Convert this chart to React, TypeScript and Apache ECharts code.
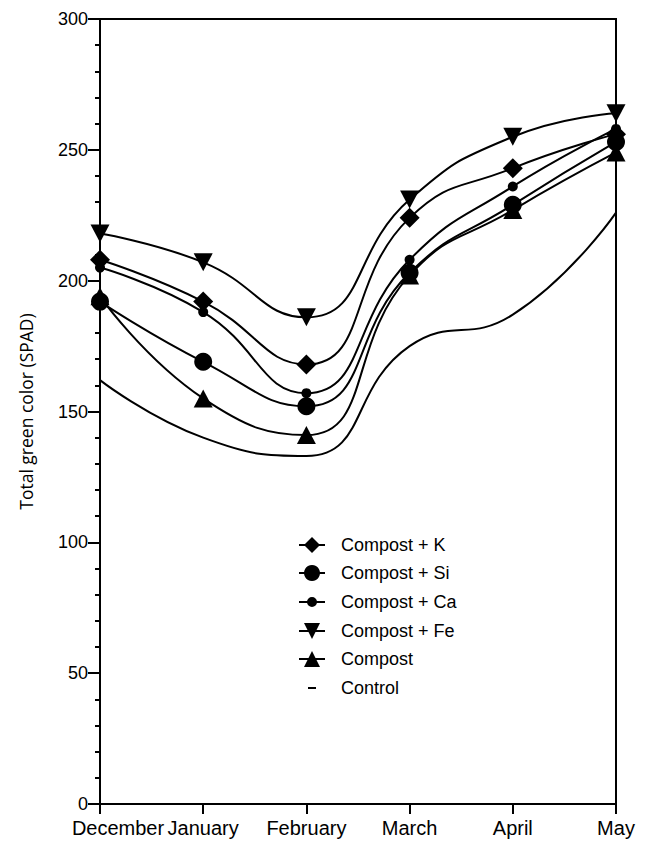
import React, { useEffect, useRef } from "react";
import * as echarts from "echarts";

const months = ["December", "January", "February", "March", "April", "May"];
const compostK = [208, 192, 168, 224, 243, 256];
const compostSi = [192, 169, 152, 203, 229, 253];
const compostCa = [205, 188, 157, 208, 236, 258];
const compostFe = [218, 207, 186, 231, 255, 264];
const compostOnly = [194, 155, 141, 202, 227, 249];
const control = [162, 140, 133, 175, 187, 226];

const FONT = "'Liberation Sans', Arial, sans-serif";

export default function App() {
  const ref = useRef<HTMLDivElement>(null);
  useEffect(() => {
    const chart = echarts.init(ref.current!, null, { renderer: "svg" });
    const base = {
      type: "line",
      smooth: true,
      lineStyle: { color: "#000", width: 2 },
      itemStyle: { color: "#000" },
      emphasis: { disabled: true },
    };
    chart.setOption({
      animation: false,
      backgroundColor: "#fff",
      grid: {
        left: 100,
        right: 39,
        top: 19,
        bottom: 37,
        show: true,
        borderColor: "#000",
        borderWidth: 2,
        backgroundColor: "transparent",
      },
      legend: {
        orient: "vertical",
        left: 298,
        top: 536,
        padding: 0,
        itemWidth: 26,
        itemHeight: 20,
        itemGap: 10,
        selectedMode: false,
        textStyle: { fontSize: 18, color: "#000", fontFamily: FONT, padding: [0, 0, 0, 11] },
        data: [
          { name: "Compost + K" },
          { name: "Compost + Si" },
          {
            name: "Compost + Ca",
            icon: "path://M0,0M26,20M0,9L26,9L26,11L0,11ZM18,10A5,5 0 1,1 8,10A5,5 0 1,1 18,10Z",
          },
          { name: "Compost + Fe" },
          { name: "Compost" },
          { name: "Control", icon: "path://M0,0M26,20M9,9L17,9L17,11L9,11Z" },
        ],
      },
      xAxis: {
        type: "category",
        data: months,
        boundaryGap: false,
        axisLine: { lineStyle: { color: "#000", width: 2 } },
        axisTick: { show: true, length: 10, lineStyle: { color: "#000", width: 2 } },
        axisLabel: {
          color: "#000",
          fontSize: 20,
          fontFamily: FONT,
          margin: 14,
          interval: 0,
          formatter: (v: string, i: number) => (i === 0 ? "{d|" + v + "}" : v),
          rich: {
            d: { color: "#000", fontSize: 20, fontFamily: FONT, padding: [0, 0, 0, 36] },
          },
        },
        splitLine: { show: false },
      },
      yAxis: {
        type: "value",
        min: 0,
        max: 300,
        interval: 50,
        name: "Total green color (SPAD)",
        nameLocation: "middle",
        nameGap: 65,
        nameTextStyle: { fontFamily: "'Open Sans', sans-serif", fontSize: 17.5, color: "#000" },
        axisLine: { show: true, lineStyle: { color: "#000", width: 2 } },
        axisTick: { show: true, length: 12, lineStyle: { color: "#000", width: 2 } },
        minorTick: { show: true, splitNumber: 5, length: 5, lineStyle: { color: "#000", width: 2 } },
        axisLabel: { color: "#000", fontSize: 18, fontFamily: FONT, margin: 12 },
        splitLine: { show: false },
        minorSplitLine: { show: false },
      },
      series: [
        { ...base, name: "Control", data: control, symbol: "none" },
        { ...base, name: "Compost", data: compostOnly, symbol: "triangle", symbolSize: [19, 18] },
        { ...base, name: "Compost + Si", data: compostSi, symbol: "circle", symbolSize: 18 },
        { ...base, name: "Compost + Ca", data: compostCa, symbol: "circle", symbolSize: 10 },
        { ...base, name: "Compost + K", data: compostK, symbol: "diamond", symbolSize: 20 },
        { ...base, name: "Compost + Fe", data: compostFe, symbol: "triangle", symbolRotate: 180, symbolSize: [19, 18] },
      ],
    });
    return () => chart.dispose();
  }, []);
  return <div ref={ref} style={{ position: "absolute", left: 0, top: 0, width: 655, height: 841 }} />;
}
